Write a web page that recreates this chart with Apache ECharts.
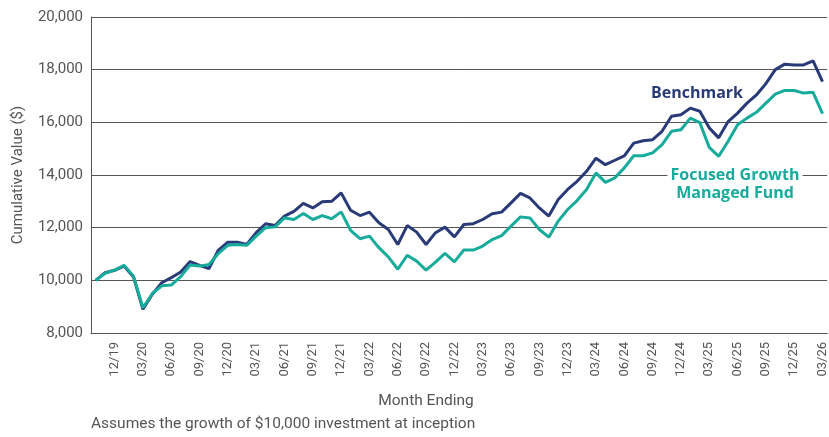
<!DOCTYPE html>
<html>
<head>
<meta charset="utf-8">
<script src="https://cdn.jsdelivr.net/npm/echarts@6/dist/echarts.min.js"></script>
<style>
html,body{margin:0;padding:0;background:#fff;}
#chart{width:829px;height:437px;}
</style>
</head>
<body>
<div id="chart"></div>
<script>
const months = ["10/19","11/19","12/19","01/20","02/20","03/20","04/20","05/20","06/20","07/20","08/20","09/20",
"10/20","11/20","12/20","01/21","02/21","03/21","04/21","05/21","06/21","07/21","08/21","09/21",
"10/21","11/21","12/21","01/22","02/22","03/22","04/22","05/22","06/22","07/22","08/22","09/22",
"10/22","11/22","12/22","01/23","02/23","03/23","04/23","05/23","06/23","07/23","08/23","09/23",
"10/23","11/23","12/23","01/24","02/24","03/24","04/24","05/24","06/24","07/24","08/24","09/24",
"10/24","11/24","12/24","01/25","02/25","03/25","04/25","05/25","06/25","07/25","08/25","09/25",
"10/25","11/25","12/25","01/26","02/26","03/26"];

const benchmark = [10000,10290,10380,10540,10130,8900,9470,9910,10100,10320,10710,10570,
10450,11150,11450,11450,11360,11810,12150,12080,12440,12620,12920,12750,
12980,13000,13320,12660,12460,12590,12190,11930,11360,12080,11830,11360,
11810,12020,11650,12120,12150,12310,12530,12590,12940,13300,13130,12750,
12440,13070,13450,13760,14140,14640,14390,14560,14730,15210,15300,15340,
15660,16230,16290,16540,16420,15790,15410,16030,16350,16730,17040,17470,
18000,18210,18180,18180,18330,17550];

const fund = [10000,10270,10390,10570,10160,8960,9500,9790,9820,10140,10580,10540,
10600,11020,11330,11360,11330,11680,12000,12030,12370,12310,12540,12310,
12460,12340,12600,11900,11580,11680,11240,10890,10420,10950,10730,10390,
10690,11020,10700,11150,11150,11300,11550,11700,12060,12410,12370,11930,
11640,12250,12690,13030,13450,14080,13720,13890,14270,14730,14730,14840,
15150,15660,15720,16160,15990,15050,14710,15280,15910,16160,16380,16730,
17070,17210,17210,17110,17140,16330];

const yTicks = {min: 8000, max: 20000, step: 2000};

const chart = echarts.init(document.getElementById('chart'), null, {renderer: 'canvas'});
const gridColor = '#555555';
const labelColor = '#555';
const navy = '#293a78';
const teal = '#17ab9c';
const font = 'Roboto';

chart.setOption({
  animation: false,
  backgroundColor: '#fff',
  grid: {left: 91, right: 0, top: 17, bottom: 104, containLabel: false},
  xAxis: {
    type: 'category',
    data: months,
    boundaryGap: true,
    axisLine: {show: true, lineStyle: {color: gridColor, width: 1}},
    axisTick: {show: false},
    axisLabel: {
      rotate: 90,
      margin: 9,
      color: labelColor,
      fontFamily: font,
      fontSize: 13,
      interval: function (i) { return i % 3 === 2; }
    },
    splitLine: {show: false}
  },
  yAxis: {
    type: 'value',
    min: yTicks.min,
    max: yTicks.max,
    interval: yTicks.step,
    axisLine: {show: true, lineStyle: {color: gridColor, width: 1}},
    axisTick: {show: false},
    axisLabel: {
      margin: 8,
      color: labelColor,
      fontFamily: font,
      fontSize: 15,
      formatter: function (v) { return v.toLocaleString('en-US'); }
    },
    splitLine: {show: true, lineStyle: {color: gridColor, width: 1}}
  },
  series: [
    {
      name: 'Benchmark',
      type: 'line',
      data: benchmark,
      symbol: 'none',
      smooth: false,
      lineStyle: {color: navy, width: 3}
    },
    {
      name: 'Focused Growth Managed Fund',
      type: 'line',
      data: fund,
      symbol: 'none',
      smooth: false,
      lineStyle: {color: teal, width: 3}
    }
  ],
  graphic: [
    {
      type: 'text', x: 18, y: 175, rotation: Math.PI / 2,
      style: {text: 'Cumulative Value ($)', fill: labelColor, font: '15px Roboto', align: 'center', verticalAlign: 'middle'}
    },
    {
      type: 'text', x: 426, y: 401,
      style: {text: 'Month Ending', fill: labelColor, font: '15.5px Roboto', align: 'center', verticalAlign: 'middle'}
    },
    {
      type: 'text', x: 91, y: 424,
      style: {text: 'Assumes the growth of $10,000 investment at inception', fill: labelColor, font: '15.5px Roboto', align: 'left', verticalAlign: 'middle'}
    },
    {
      type: 'text', x: 697, y: 93, z: 100,
      style: {text: 'Benchmark', fill: navy, font: 'bold 16px "Open Sans"', align: 'center', verticalAlign: 'middle'}
    },
    {
      type: 'text', x: 735, y: 175, z: 100,
      style: {text: 'Focused Growth', fill: teal, font: 'bold 16px "Open Sans"', align: 'center', verticalAlign: 'middle', backgroundColor: '#fff', padding: [0, 3]}
    },
    {
      type: 'text', x: 735, y: 193, z: 100,
      style: {text: 'Managed Fund', fill: teal, font: 'bold 16px "Open Sans"', align: 'center', verticalAlign: 'middle'}
    }
  ]
});
</script>
</body>
</html>
